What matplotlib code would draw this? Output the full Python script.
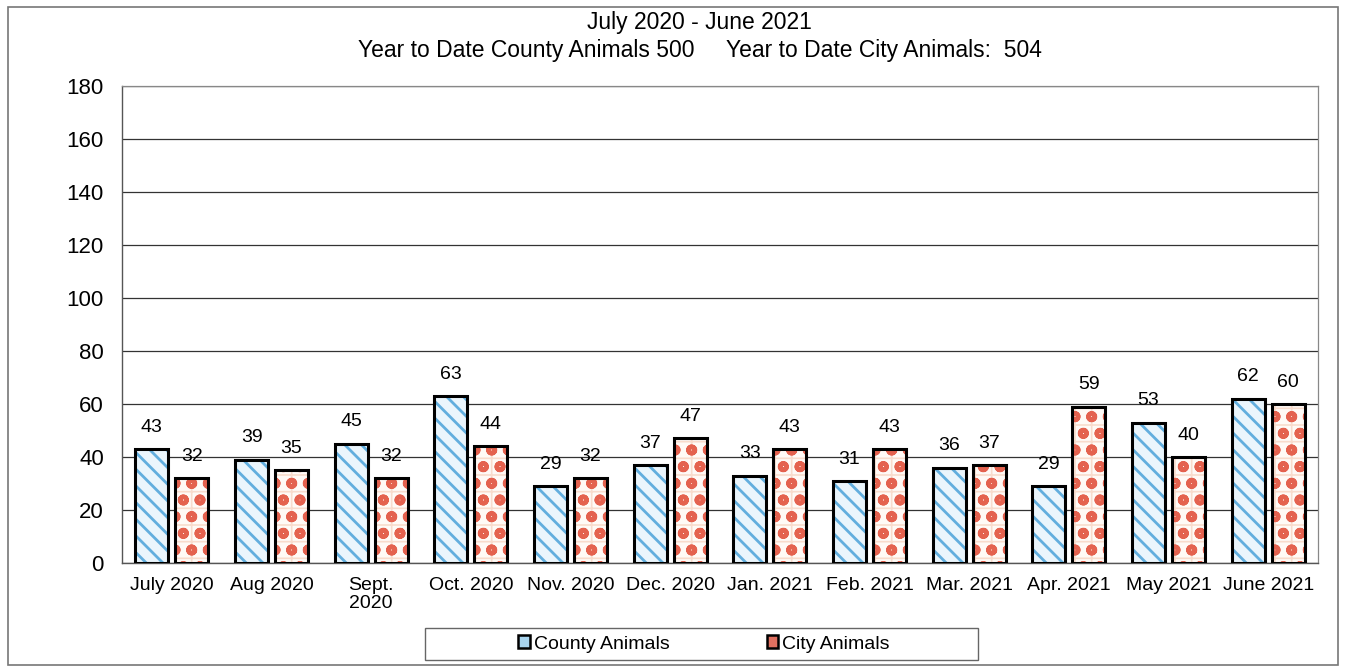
import matplotlib.pyplot as plt
import matplotlib.patches as mpatches
import numpy as np

plt.rcParams['font.family'] = ['Liberation Sans', 'DejaVu Sans']

months = ["July 2020", "Aug 2020", "Sept.\n2020", "Oct. 2020", "Nov. 2020", "Dec. 2020",
          "Jan. 2021", "Feb. 2021", "Mar. 2021", "Apr. 2021", "May 2021", "June 2021"]
county = [43, 39, 45, 63, 29, 37, 33, 31, 36, 29, 53, 62]
city = [32, 35, 32, 44, 32, 47, 43, 43, 37, 59, 40, 60]
yticks = [0, 20, 40, 60, 80, 100, 120, 140, 160, 180]


def set_hatch_lw(bars, lw):
    for b in bars:
        if hasattr(b, 'set_hatch_linewidth'):
            b.set_hatch_linewidth(lw)


fig = plt.figure(figsize=(13.46, 6.67), dpi=100)
ax = fig.add_axes([122 / 1346, 1 - 563 / 667, (1318 - 122) / 1346, (563 - 86) / 667])

x = np.arange(len(months))
w = 0.33
gap = 0.035
xc = x - w / 2 - gap
xk = x + w / 2 + gap

# County bars: light blue with diagonal stripes
plt.rcParams['hatch.linewidth'] = 2.0
b1 = ax.bar(xc, county, w, color='#eaf5fc', edgecolor='#62aede', hatch='\\\\', linewidth=0, zorder=2)
set_hatch_lw(b1, 2.0)
ax.bar(xc, county, w, color='none', edgecolor='black', linewidth=2.2, zorder=3)

# City bars: red dots over a faint peach grid
plt.rcParams['hatch.linewidth'] = 1.2
b2 = ax.bar(xk, city, w, color='#fffaf6', edgecolor='#f8dccd', hatch='+', linewidth=0, zorder=2)
set_hatch_lw(b2, 1.2)
plt.rcParams['hatch.linewidth'] = 3.2
b3 = ax.bar(xk, city, w, color='none', edgecolor='#e4624f', hatch='o', linewidth=0, zorder=2)
set_hatch_lw(b3, 3.2)
ax.bar(xk, city, w, color='none', edgecolor='black', linewidth=2.2, zorder=3)

for xi, v in zip(xc, county):
    ax.text(xi, v + 5, str(v), ha='center', va='bottom', fontsize=14)
for xi, v in zip(xk, city):
    ax.text(xi, v + 5, str(v), ha='center', va='bottom', fontsize=14)

ax.set_xlim(-0.5, len(months) - 0.5)
ax.set_ylim(0, 180)
ax.set_yticks(yticks)
ax.set_yticklabels([str(t) for t in yticks], fontsize=16)
ax.set_xticks(x)
ax.set_xticklabels(months, fontsize=14, linespacing=1.05)
ax.tick_params(axis='y', length=0, pad=13)
ax.tick_params(axis='x', length=0, pad=10)
ax.yaxis.grid(True, color='#333333', linewidth=0.9, zorder=0)
ax.set_axisbelow(True)
for s in ['top', 'right']:
    ax.spines[s].set_color('#888888')
    ax.spines[s].set_linewidth(0.9)
for s in ['left', 'bottom']:
    ax.spines[s].set_color('#555555')
    ax.spines[s].set_linewidth(1.0)

fig.text(699 / 1346, 1 - 22 / 667, "July 2020 - June 2021", ha='center', va='center', fontsize=16.5)
fig.text(700 / 1346, 1 - 50 / 667,
         "Year to Date County Animals 500     Year to Date City Animals:  504",
         ha='center', va='center', fontsize=16.5)

handles = [mpatches.Patch(facecolor='#a8d4ee', edgecolor='black', linewidth=1.8, label='County Animals'),
           mpatches.Patch(facecolor='#e07060', edgecolor='black', linewidth=1.8, label='City Animals')]
leg = fig.legend(handles=handles, loc='center', bbox_to_anchor=(704 / 1346, 1 - 644 / 667),
                 ncol=2, frameon=False, fontsize=14, columnspacing=5.0,
                 handlelength=0.6, handleheight=0.6, handletextpad=0.2, borderpad=0.2)

fig.patches.append(mpatches.Rectangle((425 / 1346, 1 - 660 / 667), 553 / 1346, 32 / 667,
                                      transform=fig.transFigure, fill=False,
                                      edgecolor='#666666', linewidth=1.0))
fig.patches.append(mpatches.Rectangle((8 / 1346, 1 - 665 / 667), 1330 / 1346, 658 / 667,
                                      transform=fig.transFigure, fill=False,
                                      edgecolor='#777777', linewidth=1.2))

fig.savefig('out.png', dpi=100)
